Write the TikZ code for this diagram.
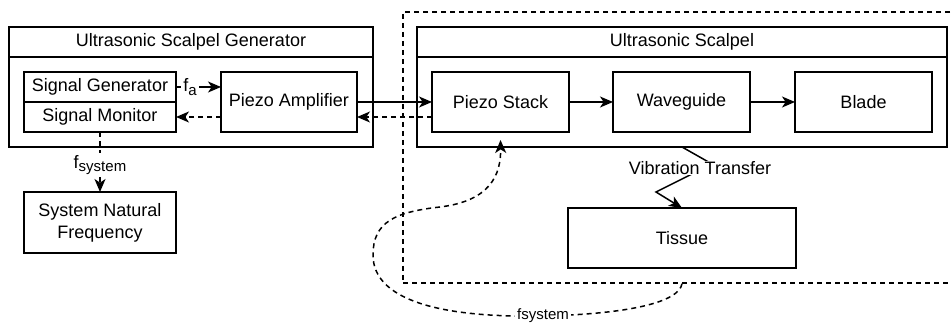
\documentclass[tikz,border=0pt]{standalone}
\usepackage{fontspec}
\setmainfont{Liberation Sans}
\usetikzlibrary{positioning,arrows.meta}
\newcommand{\subtext}[1]{\raisebox{-0.35ex}{\fontsize{7.5}{8}\selectfont #1}}

\begin{document}
\begin{tikzpicture}[
  x=0.5pt, y=-0.5pt,
  font=\fontsize{9}{11}\selectfont,
  lane/.style={draw, line width=0.75pt, inner sep=0pt, outer sep=0pt},
  block/.style={draw, line width=0.75pt, inner sep=0pt, outer sep=0pt, align=center},
  zone/.style={draw, line width=0.75pt, dash pattern=on 2.5pt off 2pt, inner sep=0pt},
  flow/.style={-{Stealth[length=6.5pt,width=5.5pt,inset=1.8pt]}, line width=0.75pt},
  back/.style={flow, dash pattern=on 2.5pt off 2pt},
  tag/.style={fill=white, inner sep=1pt},
]
  \useasboundingbox (0,0) rectangle (952,324);

  \node[zone, minimum width=298.5pt, minimum height=135.5pt] (bound) at (701.5,147.5) {};

  \node[lane, minimum width=182pt, minimum height=15pt] (gentitle) at (191,42)
    {Ultrasonic Scalpel Generator};
  \node[lane, minimum width=182pt, minimum height=45pt, below=0pt of gentitle] (genbody) {};

  \node[block, minimum width=76pt, minimum height=15pt] (siggen) at (100,87) {Signal Generator};
  \node[block, minimum width=76pt, minimum height=15pt, below=0pt of siggen] (sigmon) {Signal Monitor};
  \node[block, minimum width=68pt, minimum height=30pt] (amp) at (289,102) {Piezo Amplifier};
  \node[block, minimum width=76pt, minimum height=30.5pt] (snf) at (100,222.5)
    {System Natural\\Frequency};

  \node[lane, minimum width=265pt, minimum height=15pt] (sctitle) at (682,42) {Ultrasonic Scalpel};
  \node[lane, minimum width=265pt, minimum height=45pt, below=0pt of sctitle] (scalpel) {};

  \node[block, minimum width=68.5pt, minimum height=30pt] (stack) at (500.5,102) {Piezo Stack};
  \node[block, minimum width=68.5pt, minimum height=30pt, right=22pt of stack] (wave) {Waveguide};
  \node[block, minimum width=68.5pt, minimum height=30pt, right=22.5pt of wave] (blade) {Blade};

  \node[block, minimum width=114pt, minimum height=30pt] (tissue) at (682,238) {Tissue};

  \draw[flow] (siggen.east) -- node[tag, pos=0.31] {f\subtext{a}} (siggen.east -| amp.west);
  \draw[back] (sigmon.east -| amp.west) -- (sigmon.east);
  \draw[back] (sigmon.south) -- node[tag, pos=0.55] {f\subtext{system}} (snf.north);

  \draw[flow] (amp) -- (stack);
  \draw[back] ([yshift=-7.5pt]stack.west) -- ([yshift=-7.5pt]amp.east);
  \draw[flow] (stack) -- (wave);
  \draw[flow] (wave) -- (blade);

  \draw[flow] (tissue.north |- scalpel.south) -- ++(30,17) -- ++(-56,28) -- (tissue.north);
  \node[tag, inner sep=0pt] (vib) at (700,168) {Vibration Transfer};

  \draw[back] (tissue.south |- bound.south)
    .. controls (679,302) and (630,314) .. (543,316)
    node[tag, font=\fontsize{7.5}{9}\selectfont] (fsys) {fsystem}
    .. controls (440,318) and (373,300) .. (373,255)
    .. controls (373,222) and (395,212) .. (440,207)
    .. controls (490,201) and (501,175) .. ([yshift=-4pt]stack.south);
\end{tikzpicture}
\end{document}
